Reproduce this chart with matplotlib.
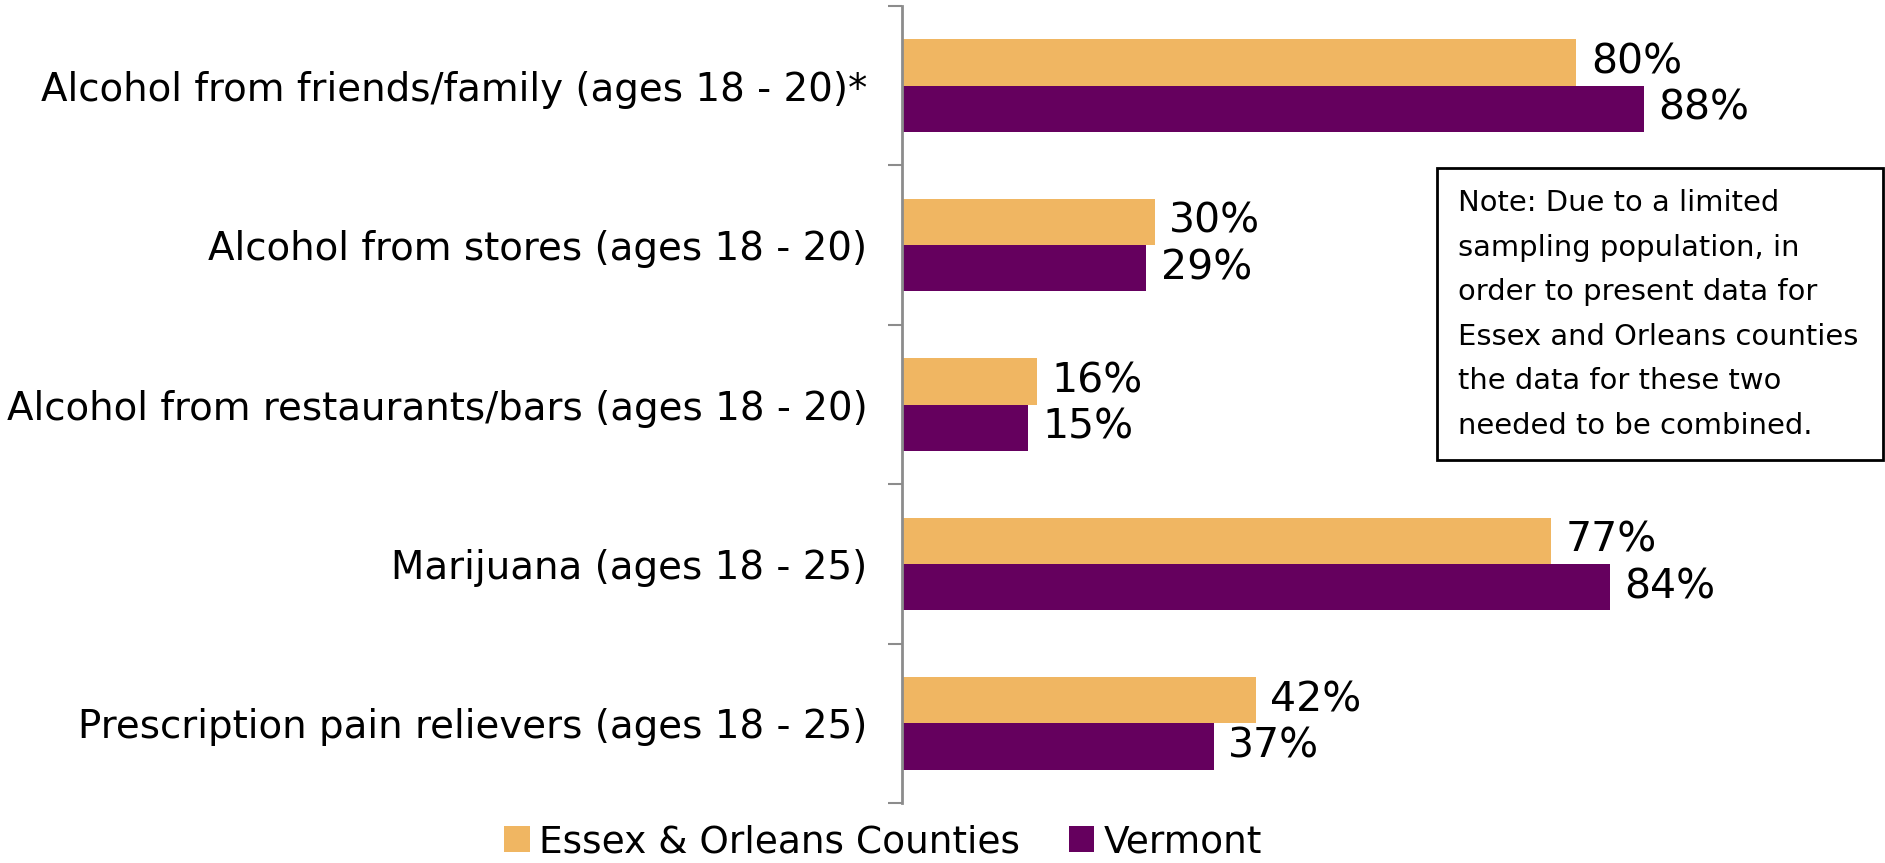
import matplotlib
matplotlib.use("Agg")
import matplotlib.pyplot as plt
from matplotlib.patches import Rectangle
import numpy as np

categories = [
    "Alcohol from friends/family (ages 18 - 20)*",
    "Alcohol from stores (ages 18 - 20)",
    "Alcohol from restaurants/bars (ages 18 - 20)",
    "Marijuana (ages 18 - 25)",
    "Prescription pain relievers (ages 18 - 25)",
]
series_names = ["Essex & Orleans Counties", "Vermont"]
essex_orleans = [80, 30, 16, 77, 42]
vermont = [88, 29, 15, 84, 37]
colors = ["#F0B662", "#65005E"]
note_text = ("Note: Due to a limited\nsampling population, in\norder to present data for\n"
             "Essex and Orleans counties\nthe data for these two\nneeded to be combined.")

plt.rcParams['font.family'] = ['DejaVu Sans']

W, H = 1885, 863
fig = plt.figure(figsize=(W / 100, H / 100), dpi=100)
ax = fig.add_axes([902 / W, 1 - 803 / H, 1 - 902 / W, (803 - 6) / H])

y = np.arange(len(categories))
bh = 0.29
b1 = ax.barh(y - bh / 2, essex_orleans, height=bh, color=colors[0], label=series_names[0])
b2 = ax.barh(y + bh / 2, vermont, height=bh, color=colors[1], label=series_names[1])

for bars, vals in ((b1, essex_orleans), (b2, vermont)):
    for rect, v in zip(bars, vals):
        ax.text(rect.get_width() + 1.7, rect.get_y() + rect.get_height() / 2, f"{v}%",
                va="center", ha="left", fontsize=29.5, color="black")

ax.set_xlim(0, 116.6)
ax.set_ylim(len(categories) - 0.5, -0.5)

ax.set_yticks(np.arange(-0.5, len(categories)), labels=[])
ax.set_yticks(y, labels=categories, minor=True)
ax.tick_params(axis="y", which="major", length=10, width=1.5, color="#8c8c8c", direction="out")
ax.tick_params(axis="y", which="minor", length=0, pad=25, labelsize=27.9)
ax.set_xticks([])
for s in ("top", "right", "bottom"):
    ax.spines[s].set_visible(False)
ax.spines["left"].set_color("#8c8c8c")
ax.spines["left"].set_linewidth(2)

# note box
fig.patches.append(Rectangle((1437 / W, 1 - 460 / H), (1883 - 1437) / W, (460 - 168) / H,
                             transform=fig.transFigure, facecolor="white",
                             edgecolor="black", linewidth=2, zorder=5))
fig.text(1458 / W, 1 - 189 / H, note_text, ha="left", va="top", fontsize=20.9,
         linespacing=1.75, zorder=6)

fig.legend(handles=[b1, b2], labels=series_names, loc="center",
           bbox_to_anchor=(0.4685, 1 - 842 / H), ncol=2, frameon=False,
           fontsize=27, handlelength=0.68, handleheight=0.68, handletextpad=0.25,
           columnspacing=1.3)

fig.savefig("out.png", dpi=100)
